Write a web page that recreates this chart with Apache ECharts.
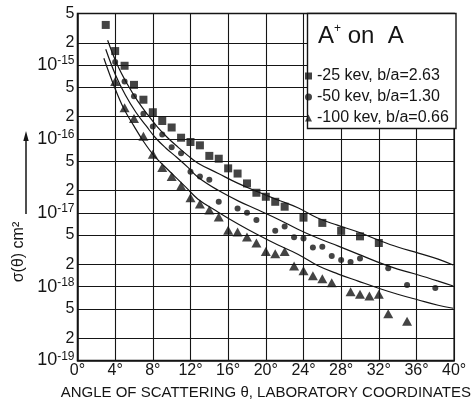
<!DOCTYPE html>
<html><head><meta charset="utf-8">
<script src="https://cdn.jsdelivr.net/npm/echarts@6/dist/echarts.min.js"></script>
<style>html,body{margin:0;padding:0;background:#fff}#c{width:474px;height:410px}</style>
</head><body><div id="c"></div>
<script>
// ---- axis ticks ----
const xTicks = [0, 4, 8, 12, 16, 20, 24, 28, 32, 36, 40];
const yTicks = [1e-19, 2e-19, 5e-19, 1e-18, 2e-18, 5e-18, 1e-17, 2e-17, 5e-17,
                1e-16, 2e-16, 5e-16, 1e-15, 2e-15, 5e-15];

// ---- series names ----
const name25 = '25 kev, b/a=2.63';
const name50 = '50 kev, b/a=1.30';
const name100 = '100 kev, b/a=0.66';

// ---- measured points (angle in degrees, sigma in cm^2) ----
const angle25 = [3, 4, 5, 6, 7, 8, 9, 10, 11, 12, 13, 14, 15, 16, 17, 18, 19, 20, 21, 22, 24, 26, 28, 30, 32];
const sigma25 = [3.5e-15, 1.55e-15, 9.8e-16, 5.4e-16, 3.4e-16, 2.3e-16, 1.75e-16, 1.43e-16, 1.04e-16, 9.1e-17,
                 8.2e-17, 5.9e-17, 5.4e-17, 4.0e-17, 3.4e-17, 2.5e-17, 1.87e-17, 1.65e-17, 1.41e-17, 1.21e-17,
                 8.6e-18, 7.3e-18, 5.7e-18, 4.8e-18, 3.9e-18];

const angle50 = [4, 5, 6, 7, 8, 9, 10, 11, 12, 13, 14, 15, 17, 18, 19, 21, 22, 23, 24, 25, 26, 27, 28, 29, 30, 33, 35, 38];
const sigma50 = [1.1e-15, 6.0e-16, 3.8e-16, 2.2e-16, 1.47e-16, 1.15e-16, 7.7e-17, 6.4e-17, 3.6e-17, 3.1e-17,
                 2.8e-17, 1.41e-17, 1.14e-17, 1.0e-17, 8.0e-18, 5.7e-18, 6.5e-18, 4.65e-18, 4.5e-18, 3.4e-18,
                 3.47e-18, 2.6e-18, 2.3e-18, 2.15e-18, 2.4e-18, 1.77e-18, 1.05e-18, 9.6e-19];

const angle100 = [4, 5, 6, 7, 8, 9, 10, 11, 12, 13, 14, 15, 16, 17, 18, 19, 20, 21, 22, 23, 24, 25, 26, 27, 29, 30, 31, 32, 33, 35];
const sigma100 = [6.0e-16, 2.65e-16, 1.9e-16, 1.09e-16, 6.2e-17, 4.1e-17, 3.1e-17, 2.3e-17, 1.6e-17, 1.32e-17,
                  1.09e-17, 8.8e-18, 5.8e-18, 5.5e-18, 4.7e-18, 3.9e-18, 3.0e-18, 2.8e-18, 3.0e-18, 1.9e-18,
                  1.64e-18, 1.41e-18, 1.28e-18, 1.13e-18, 8.5e-19, 7.9e-19, 7.5e-19, 7.9e-19, 4.3e-19, 3.4e-19];

// ---- theoretical curves ----
const curveAngleA = [3.2, 4.2, 5.3, 6.4, 7.5, 8.5, 9.6, 10.7, 11.7, 12.8, 14.9, 17, 19.2, 21.3, 23.4, 25.5, 27.6, 29.8, 31.9, 34, 36.2, 38.3, 39.9];
const curveSigmaA = [2.17e-15, 1.03e-15, 5.5e-16, 3.25e-16, 2.1e-16, 1.45e-16, 1.03e-16, 7.7e-17, 6.0e-17, 4.7e-17,
                     3.44e-17, 2.52e-17, 1.91e-17, 1.49e-17, 1.17e-17, 8.5e-18, 6.8e-18, 5.5e-18, 4.3e-18, 3.44e-18,
                     2.85e-18, 2.36e-18, 1.96e-18];
const curveAngleB = [3.0, 4.05, 5.1, 6.2, 7.3, 8.3, 9.4, 10.5, 11.7, 12.8, 14.9, 17.1, 19.2, 21.3, 23.4, 25.5, 27.7, 29.8, 31.9, 34, 36.2, 38.3, 39.9];
const curveSigmaB = [1.64e-15, 7.3e-16, 3.9e-16, 2.3e-16, 1.5e-16, 1.03e-16, 7.5e-17, 5.7e-17, 4.15e-17, 3.04e-17,
                     2.03e-17, 1.44e-17, 1.09e-17, 8.2e-18, 6.0e-18, 4.55e-18, 3.54e-18, 2.76e-18, 2.15e-18, 1.73e-18,
                     1.44e-18, 1.19e-18, 1.02e-18];
const curveAngleC = [2.8, 3.85, 4.9, 6.0, 7.05, 8.1, 9.2, 10.3, 11.5, 12.8, 14.95, 17.1, 19.2, 21.3, 23.4, 25.6, 27.7, 29.8, 31.9, 34, 36.2, 38.3, 39.9];
const curveSigmaC = [1.24e-15, 5.35e-16, 2.6e-16, 1.49e-16, 9.1e-17, 6.0e-17, 4.3e-17, 3.14e-17, 2.23e-17, 1.53e-17,
                     1.02e-17, 7.0e-18, 5.0e-18, 3.66e-18, 2.75e-18, 1.9e-18, 1.48e-18, 1.19e-18, 9.6e-19, 7.9e-19,
                     6.6e-19, 5.6e-19, 5.1e-19];

// ---- build ----
const FONT = 'Liberation Sans';
const INK = '#151515';
const lg = v => Math.log10(v);
const pairs = (xs, ys) => xs.map((x, i) => [x, lg(ys[i])]);
const yTickLog = yTicks.map(lg);

const chart = echarts.init(document.getElementById('c'), null, {renderer: 'canvas'});
chart.setOption({
  animation: false,
  backgroundColor: '#fff',
  grid: {left: 77.5, right: 18.5, top: 13.5, bottom: 49.5, show: true, borderColor: INK, borderWidth: 1.5, backgroundColor: 'transparent'},
  xAxis: {
    type: 'value', min: xTicks[0], max: xTicks[xTicks.length - 1], interval: 4,
    axisLine: {show: true, lineStyle: {color: INK, width: 1.5}},
    axisTick: {show: false},
    splitLine: {show: true, lineStyle: {color: INK, width: 1.1}},
    axisLabel: {formatter: '{value}°', fontFamily: FONT, fontSize: 16, color: INK, margin: 2},
    name: 'ANGLE OF SCATTERING θ, LABORATORY COORDINATES',
    nameLocation: 'middle', nameGap: 25,
    nameTextStyle: {fontFamily: FONT, fontSize: 15, color: INK}
  },
  yAxis: {
    type: 'value', min: yTickLog[0], max: yTickLog[yTickLog.length - 1],
    axisLine: {show: true, lineStyle: {color: INK, width: 1.5}},
    axisTick: {show: false, customValues: yTickLog},
    splitLine: {show: true, lineStyle: {color: INK, width: 1.1}},
    axisLabel: {
      customValues: yTickLog, margin: 3, color: INK, fontFamily: FONT,
      formatter: function (v) {
        const e = Math.floor(v + 1e-9);
        const m = Math.round(Math.pow(10, v - e));
        if (m === 1) return '{b|10}{s|' + e + '}';
        return '{n|' + m + '}';
      },
      rich: {
        b: {fontSize: 18, fontFamily: FONT, color: INK, lineHeight: 20},
        s: {fontSize: 12, fontFamily: FONT, color: INK, lineHeight: 12, verticalAlign: 'top'},
        n: {fontSize: 16, fontFamily: FONT, color: INK}
      }
    }
  },
  legend: {
    orient: 'vertical', left: 305, top: 68, z: 20, padding: 0,
    itemWidth: 7, itemHeight: 7, itemGap: 5,
    data: [{name: name25, icon: 'rect'}, {name: name50, icon: 'circle'}, {name: name100, icon: 'triangle'}],
    formatter: n => '-' + n,
    textStyle: {fontFamily: FONT, fontSize: 16, color: INK, lineHeight: 16}
  },
  graphic: [
    {type: 'rect', z: 10, shape: {x: 307.5, y: 13.5, width: 148.5, height: 115}, style: {fill: '#fff', stroke: INK, lineWidth: 1.4}},
    {type: 'text', z: 11, x: 318, y: 36, style: {
      text: '{a|A}{p|+}{a| on  A}', textVerticalAlign: 'middle', fill: INK,
      rich: {a: {fontFamily: FONT, fontSize: 24, fill: INK, lineHeight: 26},
             p: {fontFamily: FONT, fontSize: 12, fill: INK, lineHeight: 12, verticalAlign: 'top'}}
    }},
    {type: 'text', z: 11, x: 19, y: 252, rotation: Math.PI / 2, style: {
      text: 'σ(θ) cm²', fontFamily: FONT, fontSize: 16, fill: INK, textAlign: 'center', textVerticalAlign: 'middle'
    }},
    {type: 'line', z: 11, shape: {x1: 26, y1: 214, x2: 26, y2: 138}, style: {stroke: INK, lineWidth: 1.5}},
    {type: 'polygon', z: 11, shape: {points: [[26, 131], [23.3, 141], [28.7, 141]]}, style: {fill: INK}}
  ],
  series: [
    {name: 'curveA', type: 'line', data: pairs(curveAngleA, curveSigmaA), smooth: 0.4, showSymbol: false, silent: true,
     lineStyle: {color: INK, width: 1.2}, z: 3},
    {name: 'curveB', type: 'line', data: pairs(curveAngleB, curveSigmaB), smooth: 0.4, showSymbol: false, silent: true,
     lineStyle: {color: INK, width: 1.2}, z: 3},
    {name: 'curveC', type: 'line', data: pairs(curveAngleC, curveSigmaC), smooth: 0.4, showSymbol: false, silent: true,
     lineStyle: {color: INK, width: 1.2}, z: 3},
    {name: name25, type: 'scatter', symbol: 'rect', symbolSize: 8, data: pairs(angle25, sigma25), itemStyle: {color: INK}, z: 4},
    {name: name50, type: 'scatter', symbol: 'circle', symbolSize: 6, data: pairs(angle50, sigma50), itemStyle: {color: INK}, z: 4},
    {name: name100, type: 'scatter', symbol: 'triangle', symbolSize: [10, 9], data: pairs(angle100, sigma100), itemStyle: {color: INK}, z: 4}
  ]
});
</script>
</body></html>
